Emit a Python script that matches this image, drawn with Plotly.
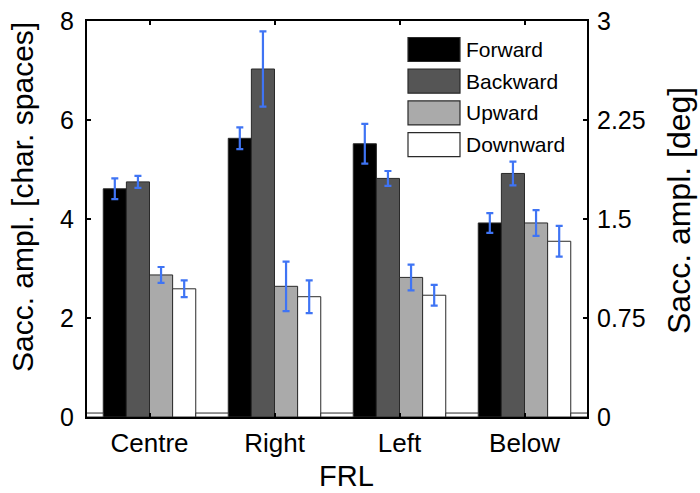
import plotly.graph_objects as go

# Saccade amplitude by fixation-relative location (FRL) and saccade direction
categories = ["Centre", "Right", "Left", "Below"]
directions = ["Forward", "Backward", "Upward", "Downward"]

forward = [4.61, 5.63, 5.52, 3.92]
backward = [4.75, 7.03, 4.82, 4.92]
upward = [2.87, 2.64, 2.82, 3.92]
downward = [2.59, 2.43, 2.46, 3.55]

forward_err = [0.21, 0.22, 0.40, 0.20]
backward_err = [0.12, 0.76, 0.15, 0.24]
upward_err = [0.16, 0.50, 0.26, 0.26]
downward_err = [0.17, 0.33, 0.21, 0.31]

left_ticks = [0, 2, 4, 6, 8]
right_ticks = [0, 0.75, 1.5, 2.25, 3]
right_tick_text = ["0", "0.75", "1.5", "2.25", "3"]

series = [forward, backward, upward, downward]
errors = [forward_err, backward_err, upward_err, downward_err]
fills = ["#000000", "#555555", "#aaaaaa", "#ffffff"]
EDGE = "#2a2a2a"
ERR_COLOR = "#3f74f4"
FONT = "Liberation Sans, Arial, Helvetica, sans-serif"

BAR_W = 0.185
GROUP_W = BAR_W * len(directions)
group_pos = list(range(1, len(categories) + 1))

# figure geometry (pixels)
W, H = 700, 493
ML, MR, MT, MB = 87, 113, 21, 76
PW, PH = W - ML - MR, H - MT - MB

fig = go.Figure()

for i, (name, vals, errs, col) in enumerate(zip(directions, series, errors, fills)):
    xs = [g + (i - 1.5) * BAR_W for g in group_pos]
    fig.add_trace(go.Bar(
        x=xs, y=vals, width=BAR_W, name=name,
        marker=dict(color=col, line=dict(color=EDGE, width=1)),
        error_y=dict(type="data", array=errs, visible=True,
                     color=ERR_COLOR, thickness=2.2, width=3.5),
        showlegend=False,
    ))

# thin white strips filling the baseline between groups
gap_x = [g - 0.5 for g in group_pos] + [group_pos[-1] + 0.5]
fig.add_trace(go.Bar(
    x=gap_x, y=[0.08] * len(gap_x), width=1 - GROUP_W,
    marker=dict(color="#ffffff", line=dict(color=EDGE, width=1)),
    showlegend=False, hoverinfo="skip",
))

# degree scale on the right (8 char. spaces = 3 deg)
fig.add_trace(go.Scatter(x=[group_pos[0]], y=[0], yaxis="y2",
                         mode="markers", marker=dict(opacity=0),
                         showlegend=False, hoverinfo="skip"))


def px_x(px):
    return (px - ML) / PW


def px_y(py):
    return (H - MB - py) / PH


# legend drawn as large swatches
LEG_X0, LEG_SW, LEG_SH = 408, 52, 24
LEG_Y0, LEG_STEP = 49.5, 31.7
for i, (name, col) in enumerate(zip(directions, fills)):
    cy = LEG_Y0 + i * LEG_STEP
    fig.add_shape(type="rect", xref="paper", yref="paper",
                  x0=px_x(LEG_X0), x1=px_x(LEG_X0 + LEG_SW),
                  y0=px_y(cy + LEG_SH / 2), y1=px_y(cy - LEG_SH / 2),
                  fillcolor=col, line=dict(color=EDGE, width=1.2))
    fig.add_annotation(xref="paper", yref="paper",
                       x=px_x(LEG_X0 + LEG_SW + 4), y=px_y(cy),
                       text=name, showarrow=False, xanchor="left", yanchor="middle",
                       font=dict(family=FONT, size=21, color="#000000"))

# axis titles
titles = [
    dict(text="Sacc. ampl. [char. spaces]", x=px_x(22), y=px_y(197), textangle=-90, size=30),
    dict(text="Sacc. ampl. [deg]", x=px_x(679), y=px_y(211), textangle=-90, size=32),
    dict(text="FRL", x=px_x(346), y=px_y(476), textangle=0, size=29),
]
for t in titles:
    fig.add_annotation(xref="paper", yref="paper", x=t["x"], y=t["y"],
                       text=t["text"], textangle=t["textangle"], showarrow=False,
                       xanchor="center", yanchor="middle",
                       font=dict(family=FONT, size=t["size"], color="#000000"))

axis_common = dict(showgrid=False, zeroline=False, showline=True, automargin=False,
                   linecolor="#000000", linewidth=2,
                   ticks="inside", tickcolor="#000000", tickwidth=1.5)

fig.update_layout(
    width=W, height=H,
    margin=dict(l=ML, r=MR, t=MT, b=MB),
    paper_bgcolor="#ffffff", plot_bgcolor="#ffffff",
    barmode="overlay",
    xaxis=dict(**axis_common, range=[0.5, len(categories) + 0.5],
               tickvals=group_pos, ticktext=categories, ticklen=4,
               mirror="ticks", ticklabelstandoff=2,
               tickfont=dict(family=FONT, size=26, color="#000000")),
    yaxis=dict(**axis_common, range=[0, 8], tickvals=left_ticks, ticklen=4,
               ticklabelstandoff=6,
               tickfont=dict(family=FONT, size=25, color="#000000")),
    yaxis2=dict(**axis_common, range=[0, 3], tickvals=right_ticks,
                ticktext=right_tick_text, ticklen=4, overlaying="y", side="right",
                ticklabelstandoff=3,
                tickfont=dict(family=FONT, size=25, color="#000000")),
)

fig.write_html("out.html")
